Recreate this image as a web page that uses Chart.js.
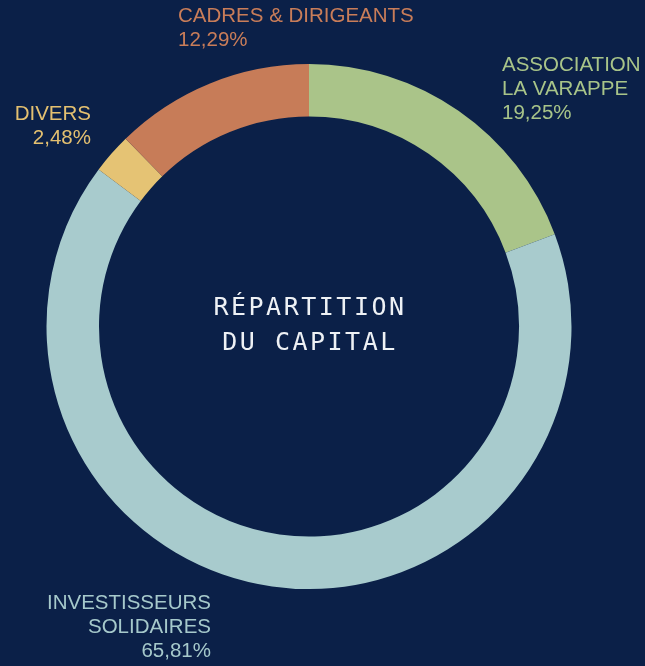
<!DOCTYPE html>
<html><head><meta charset="utf-8">
<script src="https://cdn.jsdelivr.net/npm/chart.js@4/dist/chart.umd.min.js"></script>
<style>html,body{margin:0;padding:0;background:#0b2048;}canvas{display:block;}</style>
</head><body>
<canvas id="c" width="645" height="666"></canvas>
<script>
const categories = ["ASSOCIATION\nLA VARAPPE", "INVESTISSEURS\nSOLIDAIRES", "DIVERS", "CADRES & DIRIGEANTS"];
const values = [19.25, 65.81, 2.48, 12.29];
const valueLabels = ["19,25%", "65,81%", "2,48%", "12,29%"];
const colors = ["#aac489", "#a8cbcd", "#e5c374", "#c77c58"];
const textColors = ["#a8c489", "#a6c9cb", "#e4c070", "#c97d59"];
const centerTitle = ["RÉPARTITION", "DU CAPITAL"];

// label placement (x, y of first line top, alignment) per category
const labelPos = [
  {x: 502, y: 55, align: "left"},
  {x: 211, y: 593, align: "right"},
  {x: 91, y: 104, align: "right"},
  {x: 178, y: 6, align: "left"}
];

const labelsPlugin = {
  id: "labels",
  afterDraw(chart) {
    const ctx = chart.ctx;
    ctx.save();
    ctx.font = "20.5px 'Liberation Sans', Arial, sans-serif";
    ctx.textBaseline = "top";
    categories.forEach((cat, i) => {
      const lines = cat.split("\n").concat([valueLabels[i]]);
      const p = labelPos[i];
      ctx.fillStyle = textColors[i];
      ctx.textAlign = p.align;
      lines.forEach((ln, j) => ctx.fillText(ln, p.x, p.y + j * 24));
    });
    // center title
    const arc = chart.getDatasetMeta(0).data[0];
    const cx = arc.x, cy = arc.y;
    ctx.fillStyle = "#eef1f5";
    ctx.font = "25px 'DejaVu Sans Mono', monospace";
    ctx.textAlign = "center";
    ctx.textBaseline = "middle";
    if ('letterSpacing' in ctx) ctx.letterSpacing = "2.5px";
    ctx.fillText(centerTitle[0], cx + 1, cy - 18);
    ctx.fillText(centerTitle[1], cx + 1, cy + 17);
    ctx.restore();
  }
};

new Chart(document.getElementById("c"), {
  type: "doughnut",
  data: {
    labels: categories,
    datasets: [{
      data: values,
      backgroundColor: colors,
      borderWidth: 0,
      hoverOffset: 0
    }]
  },
  options: {
    responsive: false,
    animation: false,
    cutout: "80%",
    rotation: 0,
    layout: {padding: {left: 46, right: 73, top: 64, bottom: 77}},
    plugins: {legend: {display: false}, tooltip: {enabled: false}}
  },
  plugins: [labelsPlugin]
});
</script>
</body></html>
